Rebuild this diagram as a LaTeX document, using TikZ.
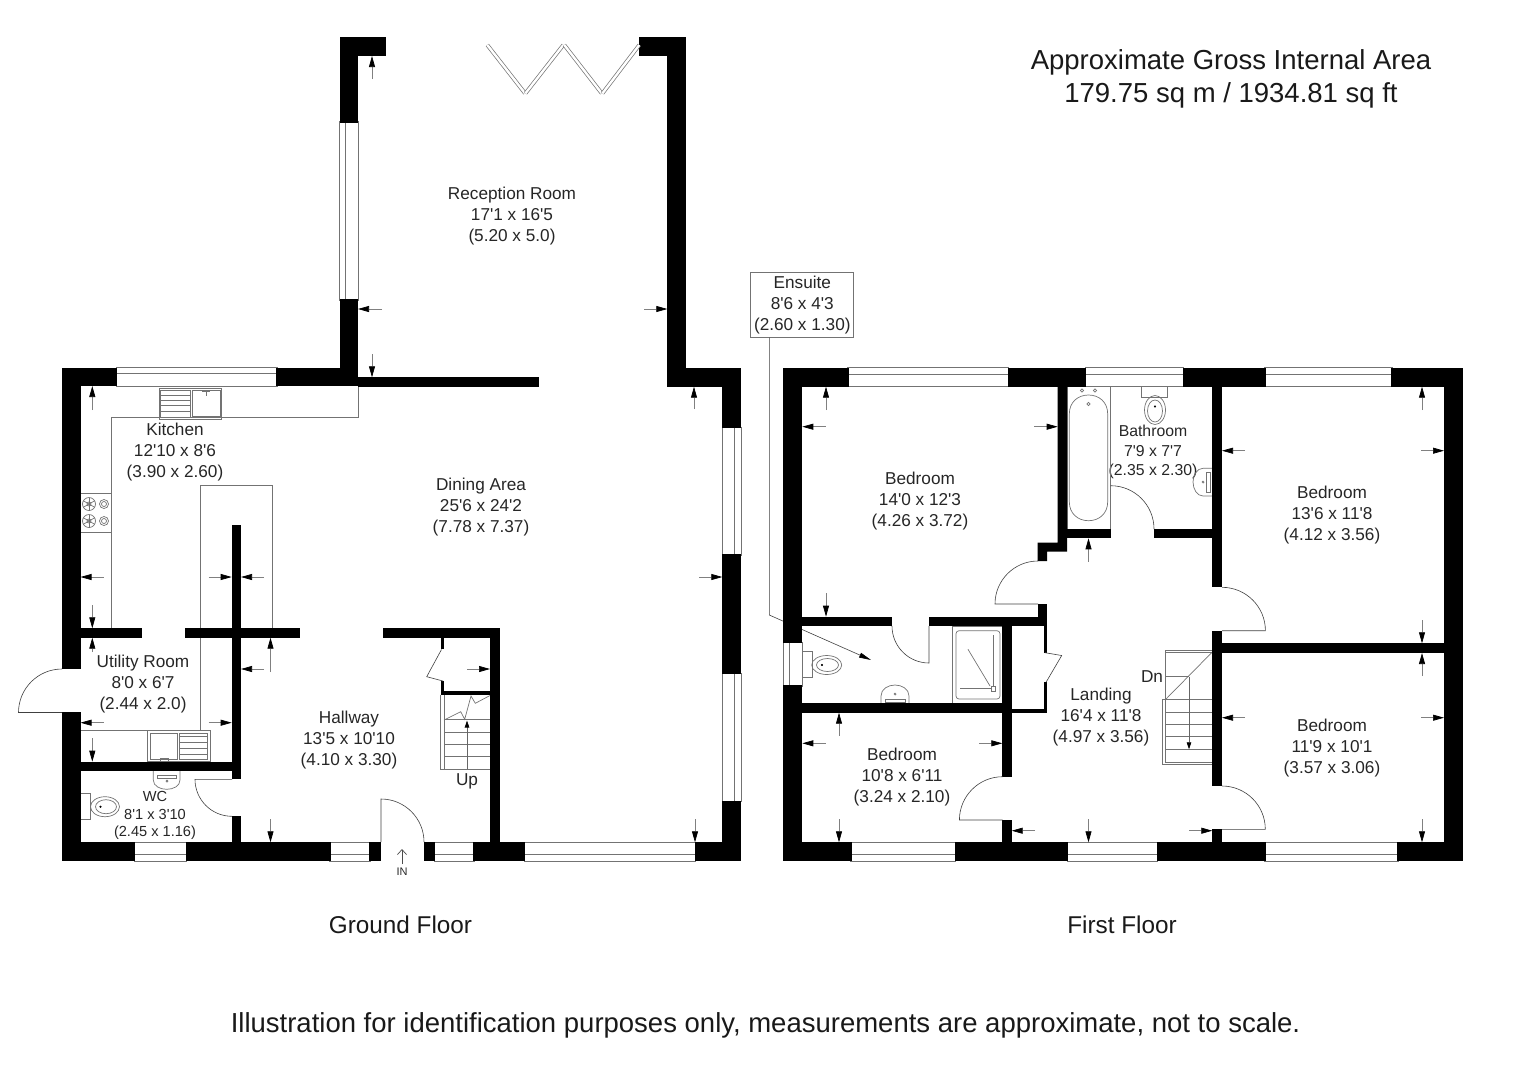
\documentclass[tikz,border=0pt]{standalone}
\usepackage{fontspec}
\usetikzlibrary{arrows.meta}
\newfontfamily\plansans{Liberation Sans}
\tikzset{
  wall/.style={fill=black},
  windowpane/.style={draw=black!55,fill=white,line width=0.8pt},
  fixture/.style={draw=black!55,line width=0.7pt},
  doorline/.style={draw=black!75,line width=0.6pt},
  bifold/.style={draw=black!55,line width=0.7pt,double=white,double distance=2.4pt},
  dimarrow/.style={draw=black!50,line width=0.7pt,-{Triangle[length=11pt,width=6pt,black]}},
  stairarrow/.style={draw=black!60,line width=0.7pt,-{Triangle[length=7pt,width=4.5pt,black]}},
  roomlabel/.style={font=\plansans\fontsize{17.2}{21}\selectfont,align=center,text=black!85},
  smalllabel/.style={font=\plansans\fontsize{14.6}{17.5}\selectfont},
  bathlabel/.style={font=\plansans\fontsize{15.8}{19.5}\selectfont},
  biglabel/.style={font=\plansans\fontsize{27.5}{33}\selectfont,align=center,text=black!90},
  floorlabel/.style={font=\plansans\fontsize{24.3}{30}\selectfont,text=black!90}
}
\begin{document}
\begin{tikzpicture}[x=1pt,y=-1pt]
\useasboundingbox (0,0) rectangle (1526,1080);

\begin{scope}[every node/.style={roomlabel}]
   \node (reception) at (512,216.5) {Reception Room\\17'1 x 16'5\\(5.20 x 5.0)};
   \node (kitchen) at (175,452.5) {Kitchen\\12'10 x 8'6\\(3.90 x 2.60)};
   \node (dining) at (481,507.5) {Dining Area\\25'6 x 24'2\\(7.78 x 7.37)};
   \node (utility) at (143,684.5) {Utility Room\\8'0 x 6'7\\(2.44 x 2.0)};
   \node (hallway) at (349,740.5) {Hallway\\13'5 x 10'10\\(4.10 x 3.30)};
   \node[smalllabel] (wc) at (155,815.5) {WC\\8'1 x 3'10\\(2.45 x 1.16)};
   \node (up) at (467,781) {Up};
   \node[font=\plansans\fontsize{11}{13}\selectfont] (in) at (402,872) {IN};

   \node (bed1) at (920,501.5) {Bedroom\\14'0 x 12'3\\(4.26 x 3.72)};
   \node[bathlabel] (bathroom) at (1153,452) {Bathroom\\7'9 x 7'7\\(2.35 x 2.30)};
   \node (bed2) at (1332,515.5) {Bedroom\\13'6 x 11'8\\(4.12 x 3.56)};
   \node (bed3) at (1332,748) {Bedroom\\11'9 x 10'1\\(3.57 x 3.06)};
   \node (bed4) at (902,777.5) {Bedroom\\10'8 x 6'11\\(3.24 x 2.10)};
   \node (landing) at (1101,717.5) {Landing\\16'4 x 11'8\\(4.97 x 3.56)};
   \node (dn) at (1152,677) {Dn};
   \node[draw=black!55,fill=white,line width=0.7pt,inner sep=0pt,minimum width=103pt,minimum height=65pt] (ensuite) at (802.3,304.7) {Ensuite\\8'6 x 4'3\\(2.60 x 1.30)};
\end{scope}

\begin{scope}[every node/.style={biglabel}]
   \node (area) at (1231,79) {Approximate Gross Internal Area\\179.75 sq m / 1934.81 sq ft};
   \node[floorlabel] (ground) at (400.5,925) {Ground Floor};
   \node[floorlabel] (first) at (1122,925) {First Floor};
   \node (note) at (765.5,1025.5) {Illustration for identification purposes only, measurements are approximate, not to scale.};
\end{scope}

% ground floor fittings
\draw[fixture] (358,386) -- (358,417.3) -- (111,417.3) -- (111,628);
\draw[fixture] (200.7,628) -- (200.7,485.7) -- (272,485.7) -- (272,628);
\draw[fixture] (200.7,637) -- (200.7,730);
\draw[fixture] (80.5,730) -- (148,730);

\draw[fixture] (159.5,388) rectangle (221.7,419);
\draw[fixture] (160.7,390) rectangle (190.7,417);
\draw[fixture] (192.3,390) rectangle (220,416);
\draw[fixture] (160.7,395) -- (190.7,395);
\draw[fixture] (160.7,400.7) -- (190.7,400.7);
\draw[fixture] (160.7,405.7) -- (190.7,405.7);
\draw[fixture] (160.7,411.7) -- (190.7,411.7);
\draw[fixture] (202,391) -- (210,391);
\draw[fixture] (206,391) -- (206,396);

\draw[fixture] (80.5,493.3) rectangle (111,532.3);
\draw[fixture] (89,504) circle (6.5);
\draw[fixture] (89,521) circle (6.5);
\draw[fixture] (104,504) circle (4.5);
\draw[fixture] (104,521) circle (4.5);
\draw[fixture] (104,504) circle (2.5);
\draw[fixture] (104,521) circle (2.5);
\draw[fixture] (89,504) circle (2);
\draw[fixture] (89,521) circle (2);
\draw[fixture] (89,497.5) -- (89,510.5);
\draw[fixture] (83.4,500.8) -- (94.6,507.2);
\draw[fixture] (83.4,507.2) -- (94.6,500.8);
\draw[fixture] (89,514.5) -- (89,527.5);
\draw[fixture] (83.4,517.8) -- (94.6,524.2);
\draw[fixture] (83.4,524.2) -- (94.6,517.8);

\draw[fixture] (147.7,730) rectangle (210,761);
\draw[fixture] (150,733) rectangle (177.7,759);
\draw[fixture] (179.3,733) rectangle (207.3,759);
\draw[fixture] (179.3,736.7) -- (207.3,736.7);
\draw[fixture] (179.3,742.3) -- (207.3,742.3);
\draw[fixture] (179.3,748.3) -- (207.3,748.3);
\draw[fixture] (179.3,754.3) -- (207.3,754.3);
\draw[fixture] (160,758) rectangle (168,761);

\draw[fixture] (153.3,771) -- (153.3,780) .. controls (153.3,786) and (160,789.3) .. (166.7,789.3) .. controls (173.4,789.3) and (180,786) .. (180,780) -- (180,771);
\draw[fixture] (157,775) rectangle (176.5,778);
\draw[fixture] (167,781) circle (1);

\draw[fixture] (80.5,793.3) rectangle (90.7,819.3);
\draw[fixture] (105,806.7) ellipse (14.5 and 10);
\draw[fixture] (106,806.7) ellipse (10.5 and 7);
\draw[fill=black] (100.5,806.7) circle (0.8);

% ground floor stairs
\draw[fixture] (440.7,694.7) -- (440.7,769.3) -- (490,769.3);
\draw[fixture] (444,694.7) -- (444,769.3);
\draw[fixture] (444,719.3) -- (490,719.3);
\draw[fixture] (444,732.3) -- (490,732.3);
\draw[fixture] (444,744.3) -- (490,744.3);
\draw[fixture] (444,756.7) -- (490,756.7);
\draw[fixture] (444,720) -- (460.7,711.7) -- (464.7,719.3) -- (471,696) -- (475.3,703.3) -- (490,695.5);
\draw[stairarrow] (467,769.3) -- (467,720.5);

% ground floor windows
\draw[windowpane] (116,367.5) rectangle (277,386);
\draw[windowpane] (116,373.5) -- (277,373.5);
\draw[windowpane] (339.5,121.7) rectangle (358,300.3);
\draw[windowpane] (345.7,121.7) -- (345.7,300.3);
\draw[windowpane] (722.3,427) rectangle (741,555);
\draw[windowpane] (734.3,427) -- (734.3,555);
\draw[windowpane] (722.3,673) rectangle (741,801.7);
\draw[windowpane] (734.3,673) -- (734.3,801.7);
\draw[windowpane] (134,842.3) rectangle (186.7,861);
\draw[windowpane] (134,854.7) -- (186.7,854.7);
\draw[windowpane] (329.7,842.3) rectangle (370.3,861);
\draw[windowpane] (329.7,854.7) -- (370.3,854.7);
\draw[windowpane] (434.3,842.3) rectangle (474.3,861);
\draw[windowpane] (434.3,854.7) -- (474.3,854.7);
\draw[windowpane] (524,842.3) rectangle (695.7,861);
\draw[windowpane] (524,854.7) -- (695.7,854.7);

% ground floor walls
\fill[wall] (62,367.5) rectangle (117,386);
\fill[wall] (276,367.5) rectangle (358,386);
\fill[wall] (358,377.3) rectangle (539,386.7);
\fill[wall] (339.5,37) rectangle (358,122.7);
\fill[wall] (339.5,37) rectangle (385.7,56);
\fill[wall] (339.5,299.3) rectangle (358,386);
\fill[wall] (639.3,37) rectangle (686,56);
\fill[wall] (667.3,37) rectangle (686,386.7);
\fill[wall] (667.3,367.5) rectangle (741,386.7);
\fill[wall] (722.3,367.5) rectangle (741,428);
\fill[wall] (722.3,554) rectangle (741,674);
\fill[wall] (722.3,800.7) rectangle (741,861);
\fill[wall] (62,367.5) rectangle (80.5,669);
\fill[wall] (62,712.3) rectangle (80.5,861);
\fill[wall] (62,842.3) rectangle (135,861);
\fill[wall] (185.7,842.3) rectangle (330.7,861);
\fill[wall] (369.3,842.3) rectangle (380.7,861);
\fill[wall] (424,842.3) rectangle (435.3,861);
\fill[wall] (473.3,842.3) rectangle (525,861);
\fill[wall] (694.7,842.3) rectangle (741,861);
\fill[wall] (80.5,628.3) rectangle (141.7,637.7);
\fill[wall] (185,628.3) rectangle (300,637.7);
\fill[wall] (383.3,628.3) rectangle (499.7,637.7);
\fill[wall] (231.7,525) rectangle (241,779);
\fill[wall] (231.7,816.3) rectangle (241,861);
\fill[wall] (80.5,761.7) rectangle (241,770.7);
\fill[wall] (490,628.3) rectangle (499.7,842.3);
\fill[wall] (441,637) rectangle (444.3,649.3);
\fill[wall] (441,680.7) rectangle (444.3,694.7);
\fill[wall] (441,691) rectangle (490,694.7);

% ground floor doors
\draw[doorline] (62,669) arc[start angle=270,end angle=180,radius=43.5] -- (62,712.5);
\draw[doorline] (232,779.3) -- (195,779.3) arc[start angle=180,end angle=90,radius=37];
\draw[doorline] (381,842) -- (381,799) arc[start angle=270,end angle=360,radius=43];
\draw[doorline] (441.5,649.5) -- (426.7,676.7) -- (443,681);
\draw[bifold] (487.3,45) -- (525,93.3);
\draw[bifold] (525.5,93.3) -- (563.3,45);
\draw[bifold] (564.3,45) -- (601.7,93.3);
\draw[bifold] (602.5,93.3) -- (639.3,45);
\draw[black!70,line width=0.7pt,-{Straight Barb[length=5pt,width=9pt]}] (402,864) -- (402,849);

% ground floor dimensions
\draw[dimarrow] (372,79) -- (372,56);
\draw[dimarrow] (372,354) -- (372,377.3);
\draw[dimarrow] (382,309) -- (358,309);
\draw[dimarrow] (644,309) -- (667.3,309);
\draw[dimarrow] (694,409) -- (694,386.7);
\draw[dimarrow] (695,819) -- (695,842.3);
\draw[dimarrow] (699,577) -- (722.3,577);
\draw[dimarrow] (270.5,819) -- (270.5,842.3);
\draw[dimarrow] (270.5,672) -- (270.5,637.7);
\draw[dimarrow] (264,669) -- (241,669);
\draw[dimarrow] (467,669) -- (490,669);
\draw[dimarrow] (92.3,410) -- (92.3,386);
\draw[dimarrow] (92.3,605) -- (92.3,628.3);
\draw[dimarrow] (103.5,577) -- (80.5,577);
\draw[dimarrow] (208.5,577) -- (231.7,577);
\draw[dimarrow] (264,577) -- (241,577);
\draw[dimarrow] (92.3,652) -- (92.3,637.7);
\draw[dimarrow] (103.5,722.7) -- (80.5,722.7);
\draw[dimarrow] (208.5,722.7) -- (231.7,722.7);
\draw[dimarrow] (92.3,738) -- (92.3,761.7);

% first floor fittings
\draw[fixture] (1067,386) rectangle (1110.7,529);
\draw[fixture] (1069.3,414) .. controls (1069.3,402) and (1078,395) .. (1088.5,395) .. controls (1099,395) and (1107.7,402) .. (1107.7,414) -- (1107.7,501.7) .. controls (1107.7,513.7) and (1099,520.7) .. (1088.5,520.7) .. controls (1078,520.7) and (1069.3,513.7) .. (1069.3,501.7) -- cycle;
\draw[fixture] (1082,390.5) circle (1.6);
\draw[fixture] (1095,390.5) circle (1.6);
\draw[fixture] (1088.5,404) circle (1.6);

\draw[fixture] (1141,386) rectangle (1167.7,397);
\draw[fixture] (1155,410) ellipse (10.5 and 14.5);
\draw[fixture] (1155,411) ellipse (7.5 and 11);
\draw[fill=black] (1155,406.5) circle (0.8);

\draw[fixture] (1212.3,468.3) -- (1203,468.3) .. controls (1197,468.3) and (1193,475) .. (1193,482) .. controls (1193,489) and (1197,496) .. (1203,496) -- (1212.3,496);
\draw[fixture] (1206,472) rectangle (1210,492);
\draw[fixture] (1203,482) circle (1);

\draw[fixture] (802.3,651.7) rectangle (812.3,677.7);
\draw[fixture] (826.7,665) ellipse (15 and 9.5);
\draw[fixture] (827.5,665) ellipse (11 and 6.5);
\draw[fill=black] (822,665) circle (0.8);

\draw[fixture] (881,703.3) -- (881,696) .. controls (881,689) and (888,685) .. (895,685) .. controls (902,685) and (909,689) .. (909,696) -- (909,703.3);
\draw[fixture] (885,699) rectangle (905,702);
\draw[fixture] (895,694) circle (1);

\draw[fixture] (952.7,626) rectangle (1002.3,703.3);
\draw[fixture,rounded corners=3pt] (956,630.7) rectangle (1000,699);
\draw[fixture] (993.3,635) -- (993.3,686.7);
\draw[fixture] (960,688.7) -- (991.5,688.7);
\draw[fixture] (968,649.3) -- (990,686);
\draw[fixture] (991.5,686.7) rectangle (995,691);

% first floor stairs
\draw[fixture] (1165.7,699.3) -- (1165.7,650) -- (1212.3,650);
\draw[fixture] (1165.7,652.7) -- (1212.3,652.7);
\draw[fixture] (1162.3,699.3) -- (1162.3,764.7) -- (1212.3,764.7);
\draw[fixture] (1165.7,699.3) -- (1165.7,762.3) -- (1212.3,762.3);
\draw[fixture] (1162.3,699.3) -- (1212.3,699.3);
\draw[fixture] (1165.7,676.7) -- (1189,676.7);
\draw[fixture] (1165.7,712.3) -- (1212.3,712.3);
\draw[fixture] (1165.7,724.7) -- (1212.3,724.7);
\draw[fixture] (1165.7,736.3) -- (1212.3,736.3);
\draw[fixture] (1165.7,749.3) -- (1212.3,749.3);
\draw[fixture] (1165.7,699.3) -- (1212.3,652);
\draw[stairarrow] (1189,676.7) -- (1189,749.3);

% ensuite leader
\coordinate (leaderbend) at (769.3,615);
\coordinate (leaderend) at (871,660);
\draw[doorline,-{Triangle[length=12pt,width=5pt,black]}] (ensuite.south -| leaderbend) -- (leaderbend) -- (leaderend);

% first floor windows
\draw[windowpane] (847.7,367.7) rectangle (1008.5,386.7);
\draw[windowpane] (847.7,374) -- (1008.5,374);
\draw[windowpane] (1085,367.7) rectangle (1183.7,386.7);
\draw[windowpane] (1085,374) -- (1183.7,374);
\draw[windowpane] (1264.7,367.7) rectangle (1392,386.7);
\draw[windowpane] (1264.7,374) -- (1392,374);
\draw[windowpane] (783.3,642) rectangle (802.3,686);
\draw[windowpane] (789.3,642) -- (789.3,686);
\draw[windowpane] (850.7,842.3) rectangle (955.5,861);
\draw[windowpane] (850.7,854.7) -- (955.5,854.7);
\draw[windowpane] (1067.3,842.3) rectangle (1157.7,861);
\draw[windowpane] (1067.3,854.7) -- (1157.7,854.7);
\draw[windowpane] (1264.7,842.3) rectangle (1398,861);
\draw[windowpane] (1264.7,854.7) -- (1398,854.7);

% first floor walls
\fill[wall] (783.3,367.7) rectangle (848.7,386.7);
\fill[wall] (1007.5,367.7) rectangle (1086,386.7);
\fill[wall] (1182.7,367.7) rectangle (1265.7,386.7);
\fill[wall] (1391,367.7) rectangle (1463,386.7);
\fill[wall] (1444,367.7) rectangle (1463,861);
\fill[wall] (783.3,367.7) rectangle (802.3,643);
\fill[wall] (783.3,685) rectangle (802.3,861);
\fill[wall] (783.3,842.3) rectangle (851.7,861);
\fill[wall] (954.5,842.3) rectangle (1068.3,861);
\fill[wall] (1156.7,842.3) rectangle (1265.7,861);
\fill[wall] (1397,842.3) rectangle (1463,861);
\fill[wall] (802.3,616.7) rectangle (892.3,626);
\fill[wall] (929,616.7) rectangle (1047,626);
\fill[wall] (802.3,703.3) rectangle (1011.7,712.7);
\fill[wall] (1002.3,626) rectangle (1011.7,776.7);
\fill[wall] (1002.3,820) rectangle (1011.7,842.3);
\fill[wall] (1037.7,604) rectangle (1047,626);
\fill[wall] (1044,626) rectangle (1047,652.7);
\fill[wall] (1044,682.3) rectangle (1047,712.7);
\fill[wall] (1011.7,709) rectangle (1047,712.7);
\fill[wall] (1057.7,386) -- (1067,386) -- (1067,551.7) -- (1047,551.7) -- (1047,561) -- (1037.7,561) -- (1037.7,542.7) -- (1057.7,542.7) -- cycle;
\fill[wall] (1067,529) rectangle (1110.7,538.3);
\fill[wall] (1154,529) rectangle (1212.3,538.3);
\fill[wall] (1212.3,386) rectangle (1222,587.3);
\fill[wall] (1212.3,630.7) rectangle (1222,786);
\fill[wall] (1212.3,829.3) rectangle (1222,842.3);
\fill[wall] (1222,643.3) rectangle (1444,653);

% first floor doors
\draw[doorline] (1038,561) arc[start angle=270,end angle=180,radius=43] -- (1038,604);
\draw[doorline] (929,626) -- (929,663) arc[start angle=90,end angle=180,radius=37];
\draw[doorline] (1002.7,776.7) arc[start angle=270,end angle=180,radius=43.3] -- (1002.7,820);
\draw[doorline] (1110.7,485.7) arc[start angle=270,end angle=360,radius=43.3];
\draw[doorline] (1222,587.3) arc[start angle=270,end angle=360,radius=43.4] -- (1222,630.7);
\draw[doorline] (1222,786) arc[start angle=270,end angle=360,radius=43.3] -- (1222,829.3);
\draw[doorline] (1045,652.7) -- (1061.7,655.5) -- (1046,682.3);

% first floor dimensions
\draw[dimarrow] (826,410) -- (826,386.7);
\draw[dimarrow] (826,593) -- (826,616.7);
\draw[dimarrow] (825.7,426.7) -- (802.3,426.7);
\draw[dimarrow] (1034,426.7) -- (1057.7,426.7);
\draw[dimarrow] (1245,450.7) -- (1222,450.7);
\draw[dimarrow] (1088.5,561.7) -- (1088.5,538.3);
\draw[dimarrow] (1422,410) -- (1422,386.7);
\draw[dimarrow] (1422,620) -- (1422,643.3);
\draw[dimarrow] (1421,450.7) -- (1444,450.7);
\draw[dimarrow] (1422,676) -- (1422,653);
\draw[dimarrow] (1245,717.7) -- (1222,717.7);
\draw[dimarrow] (1421,717.7) -- (1444,717.7);
\draw[dimarrow] (1422,819) -- (1422,842.3);
\draw[dimarrow] (1035,830.7) -- (1011.7,830.7);
\draw[dimarrow] (1088.5,819) -- (1088.5,842.3);
\draw[dimarrow] (1189,830.7) -- (1212.3,830.7);
\draw[dimarrow] (839,735.7) -- (839,712.7);
\draw[dimarrow] (825.7,743.3) -- (802.3,743.3);
\draw[dimarrow] (979.3,743.3) -- (1002.3,743.3);
\draw[dimarrow] (839,819.3) -- (839,842.3);
\end{tikzpicture}
\end{document}
